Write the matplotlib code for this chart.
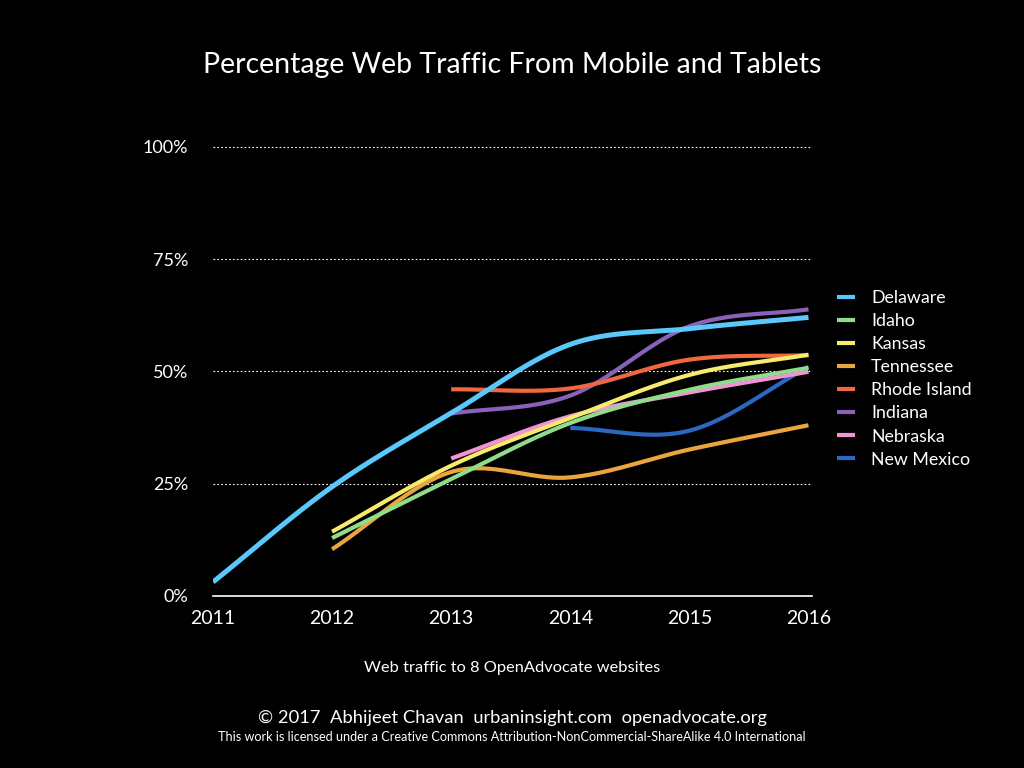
import numpy as np
import matplotlib
matplotlib.use('Agg')
import matplotlib.pyplot as plt

plt.rcParams['font.family'] = ['Lato', 'DejaVu Sans']

years = [2011, 2012, 2013, 2014, 2015, 2016]

# percentage of web traffic from mobile + tablets
delaware = [3.1, 24.3, 40.7, 56.0, 59.5, 62.0]
idaho = [None, 12.9, 26.0, 38.5, 45.9, 50.8]
kansas = [None, 14.3, 29.0, 39.6, 49.2, 53.7]
tennessee = [None, 10.4, 27.6, 26.4, 32.6, 38.0]
rhode_island = [None, None, 46.0, 46.2, 52.6, 53.6]
indiana = [None, None, 40.6, 44.6, 60.0, 63.8]
nebraska = [None, None, 30.6, 40.0, 45.3, 49.9]
new_mexico = [None, None, None, 37.4, 36.8, 51.0]

names = ['Delaware', 'Idaho', 'Kansas', 'Tennessee', 'Rhode Island',
         'Indiana', 'Nebraska', 'New Mexico']
series = [delaware, idaho, kansas, tennessee, rhode_island, indiana,
          nebraska, new_mexico]
colors = ['#5ac8fa', '#90dc8a', '#f7ea6c', '#eaa53e', '#ef6840',
          '#8862b8', '#f293d8', '#2c68c2']


def smooth(xs, ys, n=40):
    # catmull-rom style curve through the points (just for drawing)
    xs = np.asarray(xs, float)
    ys = np.asarray(ys, float)
    if len(xs) < 3:
        return xs, ys
    m = np.zeros(len(xs))
    m[0] = (ys[1] - ys[0]) / (xs[1] - xs[0])
    m[-1] = (ys[-1] - ys[-2]) / (xs[-1] - xs[-2])
    for i in range(1, len(xs) - 1):
        m[i] = (ys[i + 1] - ys[i - 1]) / (xs[i + 1] - xs[i - 1])
    out_x, out_y = [], []
    for i in range(len(xs) - 1):
        h = xs[i + 1] - xs[i]
        t = np.linspace(0, 1, n, endpoint=(i == len(xs) - 2))
        h00 = 2 * t**3 - 3 * t**2 + 1
        h10 = t**3 - 2 * t**2 + t
        h01 = -2 * t**3 + 3 * t**2
        h11 = t**3 - t**2
        out_x.extend(xs[i] + t * h)
        out_y.extend(h00 * ys[i] + h10 * h * m[i] + h01 * ys[i + 1] + h11 * h * m[i + 1])
    return np.array(out_x), np.array(out_y)


fig = plt.figure(figsize=(10.24, 7.68), dpi=100, facecolor='black')
ax = fig.add_axes([0.208, 0.224, 0.585, 0.585])
ax.set_facecolor('black')

handles = []
for k in range(len(names) - 1, -1, -1):
    pts = [(x, v) for x, v in zip(years, series[k]) if v is not None]
    sx, sy = smooth([p[0] for p in pts], [p[1] for p in pts])
    lw = 3.6 if names[k] == 'Delaware' else 3.0
    line, = ax.plot(sx, sy, color=colors[k], lw=lw, solid_capstyle='butt',
                    label=names[k], zorder=3 + (len(names) - k))
    handles.append(line)
handles = handles[::-1]

ax.set_xlim(2011, 2016.03)
ax.set_ylim(0, 100)
ax.set_xticks(years)
ax.set_xticklabels([str(y) for y in years])
ax.set_yticks([0, 25, 50, 75, 100])
ax.set_yticklabels(['0%', '25%', '50%', '75%', '100%'])
for v in [25, 50, 75, 100]:
    ax.axhline(v, color='white', lw=0.8, ls=(0, (1.5, 2)), zorder=1, clip_on=False)

for s in ['top', 'right', 'left']:
    ax.spines[s].set_visible(False)
ax.spines['bottom'].set_color('white')
ax.spines['bottom'].set_linewidth(1.2)
ax.tick_params(axis='both', length=0, colors='white')
ax.tick_params(axis='x', labelsize=14, pad=10)
ax.tick_params(axis='y', labelsize=13, pad=18)

leg = ax.legend(handles=handles, loc='upper left', bbox_to_anchor=(1.03, 0.697),
                frameon=False, fontsize=12.8, handlelength=1.0, handletextpad=0.9,
                labelspacing=0.4, borderaxespad=0)
for t in leg.get_texts():
    t.set_color('white')
for h in leg.legend_handles:
    h.set_linewidth(3)

fig.text(0.5, 0.915, 'Percentage Web Traffic From Mobile and Tablets', color='white',
         fontsize=20.5, ha='center', va='center')
fig.text(0.5, 0.13, 'Web traffic to 8 OpenAdvocate websites', color='white',
         fontsize=11.8, ha='center', va='center')
fig.text(0.5, 0.065, '\u00a9 2017  Abhijeet Chavan  urbaninsight.com  openadvocate.org',
         color='white', fontsize=13.2, ha='center', va='center')
fig.text(0.5, 0.04, 'This work is licensed under a Creative Commons Attribution-NonCommercial-ShareAlike 4.0 International',
         color='white', fontsize=9.1, ha='center', va='center')

fig.savefig('out.png', dpi=100, facecolor='black')
